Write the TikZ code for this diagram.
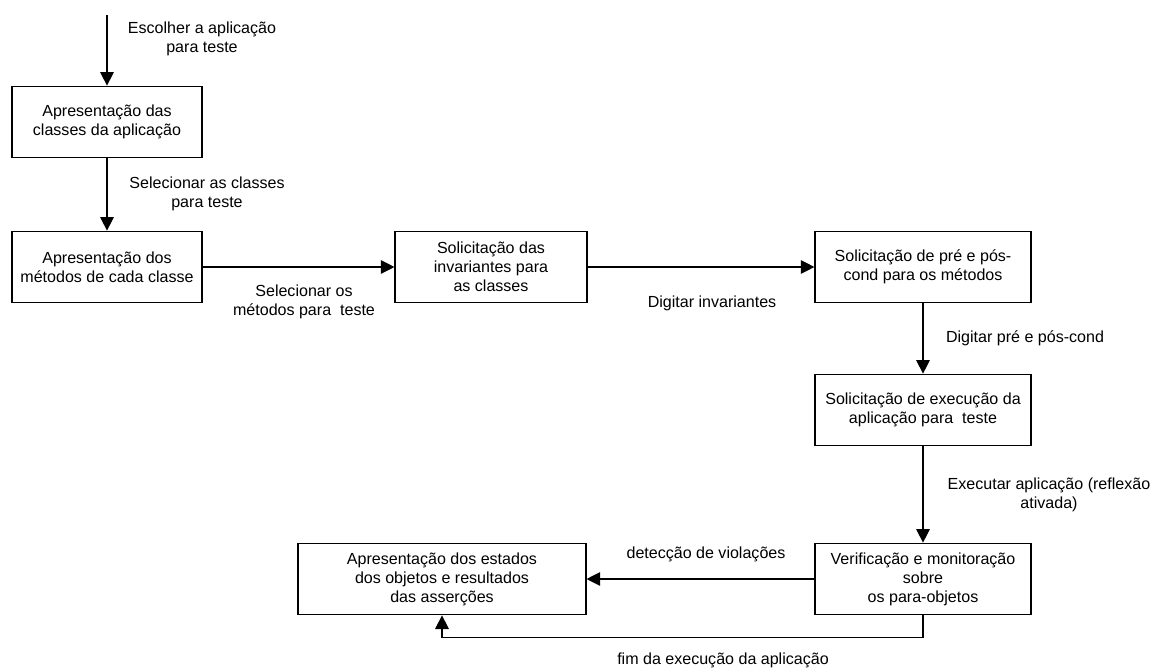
\documentclass[tikz,border=0pt]{standalone}
\usepackage{fontspec}
\setmainfont{Liberation Sans}
\usepackage{tikz}
\usetikzlibrary{positioning, arrows.meta}
\tikzstyle{flow} = [line width=0.7pt, -{Triangle[length=8.5pt,width=8.5pt]}]
\tikzset{
  stage/.style={draw, line width=0.7pt, minimum height=44.6pt, align=center, inner sep=2pt, font=\fontsize{10}{11.8}\selectfont},
  note/.style={align=center, inner sep=0pt, font=\fontsize{10}{11.8}\selectfont}
}

\begin{document}
\begin{tikzpicture}[x=0.623pt, y=-0.623pt]
    \useasboundingbox (0,0) rectangle (1158,668);

    % Stages
    \node[stage, minimum width=118.4pt] (classes) at (107,122) {Apresentação das\\classes da aplicação};
    \node[stage, minimum width=118.4pt] (metodos) at (107,267) {Apresentação dos\\métodos de cada classe};
    \node[stage, minimum width=119.6pt] (invariantes) at (491,267) {Solicitação das\\invariantes para\\as classes};
    \node[stage, minimum width=134.6pt] (precond) at (923,267) {Solicitação de pré e pós-\\cond para os métodos};
    \node[stage, minimum width=134.6pt] (execucao) at (923,410) {Solicitação de execução da\\aplicação para\ \ teste};
    \node[stage, minimum width=134.6pt] (verificacao) at (923,579) {Verificação e monitoração\\sobre\\os para-objetos};
    \node[stage, minimum width=179.4pt] (resultados) at (442,579) {Apresentação dos estados\\dos objetos e resultados\\das asserções};

    % Flow
    \coordinate (inicio) at (107,15);
    \draw[flow] (inicio) -- (classes);
    \draw[flow] (classes) -- (metodos);
    \draw[flow] (metodos) -- (invariantes);
    \draw[flow] (invariantes) -- (precond);
    \draw[flow] (precond) -- (execucao);
    \draw[flow] (execucao) -- (verificacao);
    \draw[flow] (verificacao) -- (resultados);
    \draw[flow] (verificacao.south) -- ++(0,22) -| (resultados.south);

    % Labels
    \node[note] (escolher) at (202,39) {Escolher a aplicação\\para teste};
    \node[note] (selclasses) at (207,194) {Selecionar as classes\\para teste};
    \node[note] (selmetodos) at (304,302) {Selecionar os\\métodos para\ \ teste};
    \node[note] (diginv) at (712,303) {Digitar invariantes};
    \node[note] (digpre) at (1025,338) {Digitar pré e pós-cond};
    \node[note] (executar) at (1049,495) {Executar aplicação (reflexão\\ativada)};
    \node[note] (deteccao) at (706,554) {detecção de violações};
    \node[note] (fim) at (723,660) {fim da execução da aplicação};
\end{tikzpicture}
\end{document}
